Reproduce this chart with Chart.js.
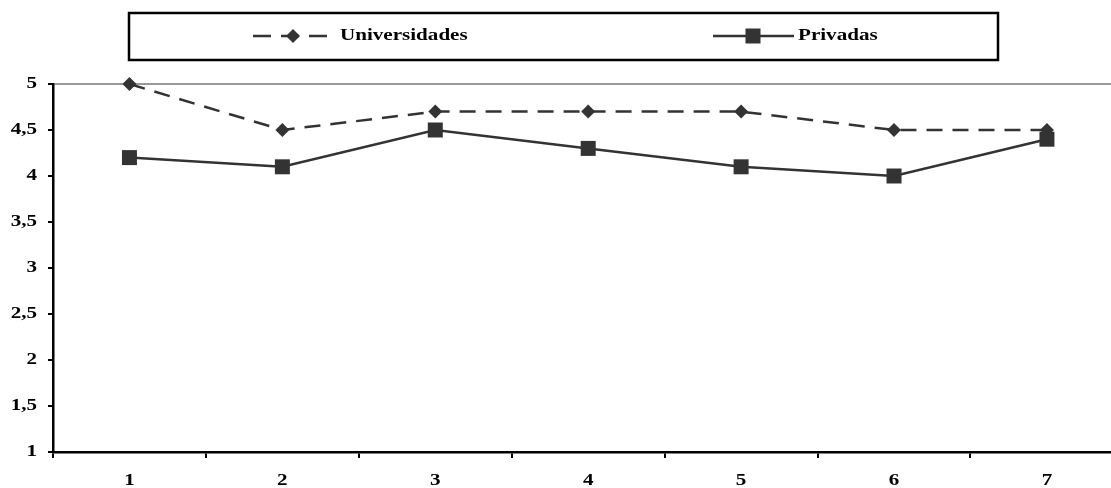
<!DOCTYPE html>
<html>
<head>
<meta charset="utf-8">
<script src="https://cdn.jsdelivr.net/npm/chart.js@4/dist/chart.umd.min.js"></script>
<style>
    html, body { margin: 0; padding: 0; background: #fff; overflow: hidden; }
    #wrap { position: relative; width: 1134px; height: 488px; }
</style>
</head>
<body>
<!-- el lienzo es algo más ancho que la ventana: en el original el eje x sigue fuera del recorte -->
<div id="wrap"><canvas id="grafico" width="1134" height="488"></canvas></div>
<script>
    // Datos
    const CATEGORIAS = ["1", "2", "3", "4", "5", "6", "7"];
    const UNIVERSIDADES = [5, 4.5, 4.7, 4.7, 4.7, 4.5, 4.5];
    const PRIVADAS = [4.2, 4.1, 4.5, 4.3, 4.1, 4.0, 4.4];
    const SERIES = ["Universidades", "Privadas"];
    const Y_MIN = 1, Y_MAX = 5, Y_PASO = 0.5;

    const INK = "#333333";
    const FONT = "bold 17px 'Liberation Serif', 'Times New Roman', serif";
    const ESTIRA = 1.24; // el original tiene el texto ensanchado

    const fmt = (v) => String(v).replace(".", ",");

    function texto(ctx, str, x, y, align) {
        ctx.save();
        ctx.font = FONT;
        ctx.textBaseline = "middle";
        ctx.textAlign = align;
        ctx.fillStyle = "#000";
        ctx.translate(x, y);
        ctx.scale(ESTIRA, 1);
        ctx.fillText(str, 0, 0);
        ctx.restore();
    }

    function rombo(ctx, x, y, r) {
        ctx.beginPath();
        ctx.moveTo(x, y - r); ctx.lineTo(x + r, y); ctx.lineTo(x, y + r); ctx.lineTo(x - r, y);
        ctx.closePath();
        ctx.fill();
    }

    // etiquetas de los ejes y leyenda dibujadas a mano (texto ensanchado)
    const etiquetas = {
        id: "etiquetas",
        afterDraw(chart) {
            const ctx = chart.ctx;
            const sx = chart.scales.x, sy = chart.scales.y;
            sy.ticks.forEach((t) => texto(ctx, fmt(t.value), 37, sy.getPixelForValue(t.value), "right"));
            CATEGORIAS.forEach((c, i) => texto(ctx, c, sx.getPixelForTick(i), 481, "center"));

            // leyenda
            ctx.save();
            ctx.strokeStyle = "#000";
            ctx.lineWidth = 2.5;
            ctx.strokeRect(129, 13, 869, 47);

            const yL = 36;
            ctx.strokeStyle = INK;
            ctx.fillStyle = INK;
            ctx.lineWidth = 2.5;
            ctx.setLineDash([18, 10]);
            ctx.beginPath(); ctx.moveTo(253, yL); ctx.lineTo(329, yL); ctx.stroke();
            ctx.setLineDash([]);
            rombo(ctx, 293, yL, 7);
            texto(ctx, SERIES[0], 340, yL, "left");

            ctx.strokeStyle = INK;
            ctx.lineWidth = 2.5;
            ctx.beginPath(); ctx.moveTo(713, yL); ctx.lineTo(794, yL); ctx.stroke();
            ctx.fillStyle = INK;
            ctx.fillRect(753 - 7.5, yL - 7.5, 15, 15);
            texto(ctx, SERIES[1], 798, yL, "left");
            ctx.restore();
        },
    };

    new Chart(document.getElementById("grafico").getContext("2d"), {
        type: "line",
        data: {
            labels: CATEGORIAS,
            datasets: [{
                label: SERIES[0],
                data: UNIVERSIDADES,
                borderColor: INK,
                borderWidth: 2.5,
                borderDash: [16, 10],
                pointStyle: "rectRot",
                pointRadius: 7,
                pointHoverRadius: 7,
                pointBackgroundColor: INK,
                pointBorderColor: INK,
                pointBorderWidth: 0,
                tension: 0,
                clip: false,
            }, {
                label: SERIES[1],
                data: PRIVADAS,
                borderColor: INK,
                borderWidth: 2.5,
                pointStyle: "rect",
                pointRadius: 10.6,
                pointHoverRadius: 10.6,
                pointBackgroundColor: INK,
                pointBorderColor: INK,
                pointBorderWidth: 0,
                tension: 0,
                clip: false,
            }],
        },
        options: {
            responsive: false,
            animation: false,
            events: [],
            layout: { padding: { top: 84, right: 0, left: 0, bottom: 0 } },
            plugins: {
                legend: { display: false },
                tooltip: { enabled: false },
            },
            scales: {
                x: {
                    offset: true,
                    grid: { offset: true, drawOnChartArea: false, color: "#000", lineWidth: 2, tickLength: 6 },
                    border: { color: "#000", width: 2.5 },
                    ticks: { display: false },
                    afterFit: (s) => { s.height = 36; },
                },
                y: {
                    min: Y_MIN,
                    max: Y_MAX,
                    ticks: { stepSize: Y_PASO, display: false },
                    grid: {
                        color: (c) => (c.tick && c.tick.value === Y_MAX ? "#999999" : "rgba(0,0,0,0)"),
                        tickColor: "#000",
                        lineWidth: 2,
                        tickLength: 5,
                    },
                    border: { color: "#000", width: 2.5 },
                    afterFit: (s) => { s.width = 53; },
                },
            },
        },
        plugins: [etiquetas],
    });
</script>
</body>
</html>
